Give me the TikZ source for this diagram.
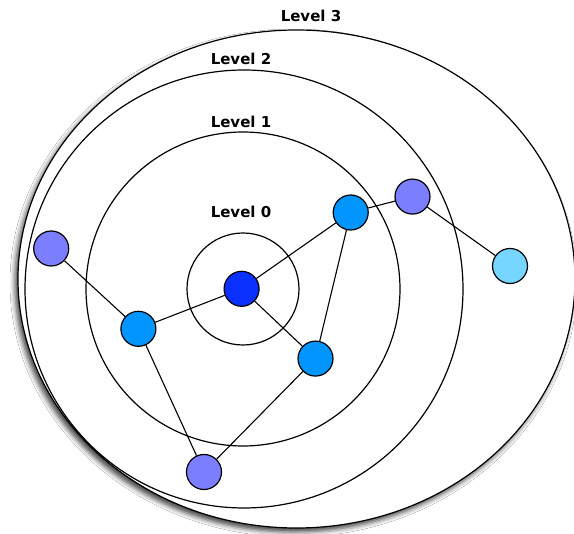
\documentclass[tikz,border=0pt]{standalone}
\usepackage{fontspec}
\setmainfont{DejaVu Sans}
\usetikzlibrary{shadows.blur}
\definecolor{cZero}{HTML}{0A30FF}
\definecolor{cOne}{HTML}{0095FF}
\definecolor{cTwo}{HTML}{7B7FFF}
\definecolor{cThree}{HTML}{76D6FF}
\tikzset{
  ring/.style={draw=black, line width=1.2pt},
  lvl/.style={font=\bfseries\fontsize{15}{18}\selectfont, inner sep=0pt},
  vtx/.style={circle, draw=black, line width=1.2pt, minimum size=35pt, inner sep=0pt},
  link/.style={draw=black, line width=1.1pt}
}
\begin{document}
\begin{tikzpicture}[x=1pt, y=-1pt]
\useasboundingbox (0,0) rectangle (574,534);
\clip (0,0) rectangle (574,534);
% rings
\fill[white] (0,0) rectangle (574,534);
\path[ring, fill=white, blur shadow={shadow xshift=-3pt, shadow yshift=-4pt, shadow blur radius=5pt, shadow opacity=75}] (296.5,279) ellipse [x radius=278.5, y radius=249];
\path[ring] (244,289) circle [radius=219];
\path[ring] (243,289) circle [radius=157];
\path[ring] (243,289) circle [radius=56];
% labels
\node[lvl] (l3) at (311,16) {Level 3};
\node[lvl] (l2) at (241,59) {Level 2};
\node[lvl] (l1) at (241,122) {Level 1};
\node[lvl] (l0) at (241,212) {Level 0};
% vertices
\node[vtx, fill=cZero] (c0) at (241.6,288.8) {};
\node[vtx, fill=cOne] (mL) at (138.4,328.8) {};
\node[vtx, fill=cOne] (mR) at (315.5,358.6) {};
\node[vtx, fill=cOne] (mT) at (350.7,212.5) {};
\node[vtx, fill=cTwo] (pT) at (412.5,196.6) {};
\node[vtx, fill=cTwo] (pL) at (51.2,248.5) {};
\node[vtx, fill=cTwo] (pB) at (204,472) {};
\node[vtx, fill=cThree] (cy) at (510,266) {};
% links
\draw[link] (c0) -- (mL);
\draw[link] (c0) -- (mT);
\draw[link] (c0) -- (mR);
\draw[link] (mT) -- (pT);
\draw[link] (mT) -- (mR);
\draw[link] (pT) -- (cy);
\draw[link] (pL) -- (mL);
\draw[link] (mL) -- (pB);
\draw[link] (mR) -- (pB);
\end{tikzpicture}
\end{document}
